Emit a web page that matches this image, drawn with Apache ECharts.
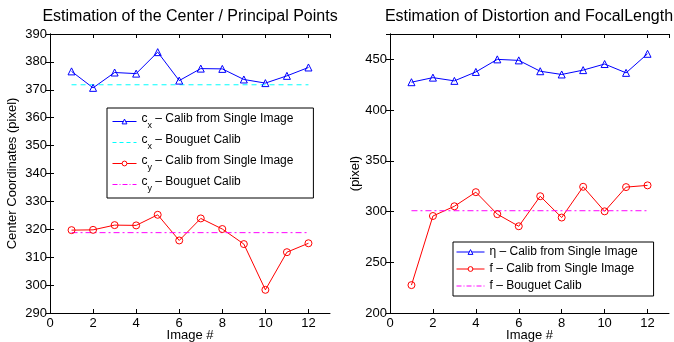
<!DOCTYPE html>
<html>
<head>
<meta charset="utf-8">
<script src="https://cdn.jsdelivr.net/npm/echarts@6/dist/echarts.min.js"></script>
<style>
  html, body { margin: 0; padding: 0; background: #fff; }
  #chart { width: 674px; height: 342px; }
</style>
</head>
<body>
<div id="chart"></div>
<script>
// image numbers (x axis)
const images = [1, 2, 3, 4, 5, 6, 7, 8, 9, 10, 11, 12]

// left panel: principal point
const cxSingle = [376.6, 370.7, 376.2, 375.8, 383.5, 373.3, 377.6, 377.5, 373.7, 372.4, 375.0, 378.0]
const cySingle = [319.7, 319.8, 321.5, 321.4, 325.2, 316.0, 323.9, 320.1, 314.7, 298.3, 311.8, 315.0]
const cxBouguet = 371.8
const cyBouguet = 318.8

// right panel: distortion and focal length
const etaSingle = [427.5, 432.0, 428.8, 437.6, 450.0, 449.0, 438.3, 435.1, 439.4, 445.4, 436.7, 455.5]
const fSingle = [227.5, 295.6, 305.2, 319.1, 297.4, 285.5, 315.1, 294.1, 324.4, 300.2, 324.1, 325.8]
const fBouguet = 300.8

const FONT = 'Liberation Sans, Arial, sans-serif'
const chart = echarts.init(document.getElementById('chart'))

const pairs = (ys) => images.map((x, i) => [x, ys[i]])
const flat = (v) => [[images[0], v], [images[images.length - 1], v]]

const axisCommon = {
  axisLine: { lineStyle: { color: '#000', width: 1 } },
  axisTick: { inside: true, length: 4, lineStyle: { color: '#000' } },
  splitLine: { show: false },
  nameMoveOverlap: false,
}
const lbl = { color: '#000', fontSize: 13, fontFamily: FONT }

function xAx(gridIndex, top) {
  return {
    ...axisCommon, type: 'value', gridIndex, min: 0, max: 13, interval: 2,
    position: top ? 'top' : 'bottom',
    axisLabel: top ? { show: false } : { ...lbl, margin: 4, showMaxLabel: false },
    name: top ? '' : 'Image #', nameLocation: 'middle', nameGap: 16,
    nameTextStyle: { color: '#000', fontSize: 13, fontFamily: FONT },
  }
}
function yAx(gridIndex, right, min, max, interval, name, nameGap) {
  return {
    ...axisCommon, type: 'value', gridIndex, min, max, interval,
    position: right ? 'right' : 'left',
    axisLabel: right ? { show: false } : { ...lbl, margin: 3, showMaxLabel: max % interval === 0 },
    name: right ? '' : name, nameLocation: 'middle', nameGap,
    nameTextStyle: { color: '#000', fontSize: 13, fontFamily: FONT },
  }
}

const rich = {
  c: { fontSize: 12, fontFamily: FONT, color: '#000', lineHeight: 17, verticalAlign: 'top' },
  s: { fontSize: 9, fontFamily: FONT, color: '#000', lineHeight: 17, verticalAlign: 'bottom' },
}
const legendNames = {
  'cx single': '{c|c}{s|x}{c| – Calib from Single Image}',
  'cx bouguet': '{c|c}{s|x}{c| – Bouguet Calib}',
  'cy single': '{c|c}{s|y}{c| – Calib from Single Image}',
  'cy bouguet': '{c|c}{s|y}{c| – Bouguet Calib}',
  'eta single': 'η – Calib from Single Image',
  'f single': 'f – Calib from Single Image',
  'f bouguet': 'f – Bouguet Calib',
}

const blue = '#0000ff', red = '#ff0000', cyan = '#00ffff', magenta = '#ff00ff'
function markers(name, data, color, symbol, xi) {
  return {
    name, type: 'line', data, xAxisIndex: xi, yAxisIndex: xi, symbol, symbolSize: 7,
    lineStyle: { color, width: 1 },
    itemStyle: { color: 'transparent', borderColor: color, borderWidth: 1 },
    animation: false,
  }
}
function refLine(name, data, color, type, xi) {
  return {
    name, type: 'line', data, xAxisIndex: xi, yAxisIndex: xi, symbol: 'none',
    lineStyle: { color, width: 1, type },
    itemStyle: { color },
    animation: false,
  }
}
// legend entries: thin line, small hollow marker, no marker for reference lines
const legMarker = (name, color) => ({
  name, itemStyle: { color: '#fff', borderColor: color, borderWidth: 1 },
  lineStyle: { color, width: 1 },
})
const legRef = (name, color, type) => ({
  name, itemStyle: { opacity: 0 }, lineStyle: { color, width: 1, type },
})

chart.setOption({
  backgroundColor: '#fff',
  title: [
    { text: 'Estimation of the Center / Principal Points', left: 185, top: 4, textAlign: 'center',
      textStyle: { fontSize: 16, fontWeight: 'normal', color: '#000', fontFamily: FONT } },
    { text: 'Estimation of Distortion and FocalLength', left: 524, top: 4, textAlign: 'center',
      textStyle: { fontSize: 16, fontWeight: 'normal', color: '#000', fontFamily: FONT } },
  ],
  grid: [
    { left: 50, right: 344, top: 34, bottom: 29, outerBoundsMode: 'none' },
    { left: 390, right: 5, top: 34, bottom: 29, outerBoundsMode: 'none' },
  ],
  xAxis: [xAx(0, false), xAx(0, true), xAx(1, false), xAx(1, true)],
  yAxis: [
    yAx(0, false, 290, 390, 10, 'Center Coordinates (pixel)', 31),
    yAx(0, true, 290, 390, 10),
    yAx(1, false, 200, 475, 50, '(pixel)', 28),
    yAx(1, true, 200, 475, 50),
  ].map((a, i) => ({ ...a, gridIndex: i < 2 ? 0 : 1 })),
  legend: [
    {
      data: [legMarker('cx single', blue), legRef('cx bouguet', cyan, [4, 3]),
        legMarker('cy single', red), legRef('cy bouguet', magenta, [5, 2, 1, 2])],
      orient: 'vertical', left: 107, top: 108, padding: [5, 20, 5, 5], itemGap: 4,
      itemWidth: 24, itemHeight: 6, backgroundColor: '#fff', borderColor: '#000', borderWidth: 1,
      borderRadius: 0, formatter: (n) => legendNames[n], textStyle: { rich },
      selectedMode: false,
    },
    {
      data: [legMarker('eta single', blue), legMarker('f single', red),
        legRef('f bouguet', magenta, [5, 2, 1, 2])],
      orient: 'vertical', left: 453, top: 242, padding: [3, 16, 3, 3], itemGap: 3,
      itemWidth: 28, itemHeight: 6, backgroundColor: '#fff', borderColor: '#000', borderWidth: 1,
      borderRadius: 0, formatter: (n) => legendNames[n],
      textStyle: { fontSize: 12, fontFamily: FONT, color: '#000', lineHeight: 14 },
      selectedMode: false,
    },
  ],
  series: [
    markers('cx single', pairs(cxSingle), blue, 'triangle', 0),
    refLine('cx bouguet', flat(cxBouguet), cyan, [5, 4], 0),
    markers('cy single', pairs(cySingle), red, 'circle', 0),
    refLine('cy bouguet', flat(cyBouguet), magenta, [6, 3, 2, 3], 0),
    markers('eta single', pairs(etaSingle), blue, 'triangle', 2),
    markers('f single', pairs(fSingle), red, 'circle', 2),
    refLine('f bouguet', flat(fBouguet), magenta, [6, 3, 2, 3], 2),
  ],
})
</script>
</body>
</html>
